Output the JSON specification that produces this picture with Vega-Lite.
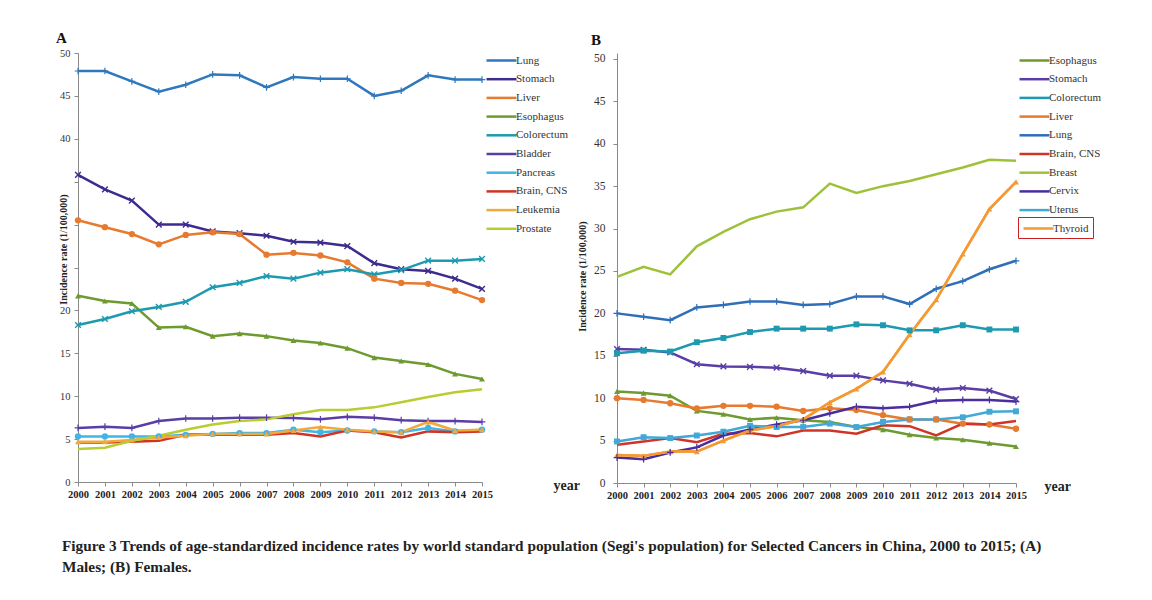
{
  "$schema": "https://vega.github.io/schema/vega-lite/v6.json",
  "padding": {"left": 56, "top": 31, "right": 5, "bottom": 5},
  "background": "white",
  "config": {
    "font": "Liberation Serif",
    "view": {"stroke": null},
    "concat": {"spacing": -3},
    "axis": {"domainColor": "#8a8a8a", "tickColor": "#8a8a8a", "tickSize": 4, "labelFont": "Liberation Serif", "labelColor": "#333", "titleFont": "Liberation Serif", "titleColor": "#222", "grid": false},
    "legend": {"title": null, "labelFont": "Liberation Serif", "labelFontSize": 11, "labelColor": "#333", "labelOffset": 10, "rowPadding": 5.7, "padding": 0, "layout": {"right": {"anchor": "start", "direction": "vertical", "margin": 1}}},
    "title": {"font": "Liberation Serif"}
  },
  "title": {
    "text": ["Figure 3 Trends of age-standardized incidence rates by world standard population (Segi's population) for Selected Cancers in China, 2000 to 2015; (A)", "Males; (B) Females."],
    "orient": "bottom", "anchor": "start", "fontSize": 15.3, "fontWeight": "bold", "color": "#222", "offset": 38, "lineHeight": 21, "dx": 6
  },
  "datasets": {
    "males": [
      {"year": 2000, "Lung": 47.9, "Stomach": 35.8, "Liver": 30.5, "Esophagus": 21.7, "Colorectum": 18.3, "Bladder": 6.3, "Pancreas": 5.3, "Brain, CNS": 4.6, "Leukemia": 4.7, "Prostate": 3.85},
      {"year": 2001, "Lung": 47.9, "Stomach": 34.1, "Liver": 29.7, "Esophagus": 21.1, "Colorectum": 19.0, "Bladder": 6.45, "Pancreas": 5.3, "Brain, CNS": 4.6, "Leukemia": 4.7, "Prostate": 4.0},
      {"year": 2002, "Lung": 46.7, "Stomach": 32.8, "Liver": 28.9, "Esophagus": 20.8, "Colorectum": 19.9, "Bladder": 6.3, "Pancreas": 5.3, "Brain, CNS": 4.7, "Leukemia": 4.9, "Prostate": 4.8},
      {"year": 2003, "Lung": 45.5, "Stomach": 30.0, "Liver": 27.7, "Esophagus": 18.0, "Colorectum": 20.4, "Bladder": 7.1, "Pancreas": 5.3, "Brain, CNS": 4.8, "Leukemia": 5.2, "Prostate": 5.4},
      {"year": 2004, "Lung": 46.3, "Stomach": 30.0, "Liver": 28.8, "Esophagus": 18.1, "Colorectum": 21.0, "Bladder": 7.4, "Pancreas": 5.5, "Brain, CNS": 5.5, "Leukemia": 5.4, "Prostate": 6.1},
      {"year": 2005, "Lung": 47.5, "Stomach": 29.2, "Liver": 29.1, "Esophagus": 17.0, "Colorectum": 22.7, "Bladder": 7.4, "Pancreas": 5.6, "Brain, CNS": 5.5, "Leukemia": 5.6, "Prostate": 6.7},
      {"year": 2006, "Lung": 47.4, "Stomach": 29.0, "Liver": 28.9, "Esophagus": 17.3, "Colorectum": 23.2, "Bladder": 7.5, "Pancreas": 5.7, "Brain, CNS": 5.5, "Leukemia": 5.6, "Prostate": 7.1},
      {"year": 2007, "Lung": 46.0, "Stomach": 28.7, "Liver": 26.5, "Esophagus": 17.0, "Colorectum": 24.0, "Bladder": 7.5, "Pancreas": 5.7, "Brain, CNS": 5.5, "Leukemia": 5.6, "Prostate": 7.3},
      {"year": 2008, "Lung": 47.2, "Stomach": 28.0, "Liver": 26.7, "Esophagus": 16.5, "Colorectum": 23.7, "Bladder": 7.45, "Pancreas": 6.1, "Brain, CNS": 5.7, "Leukemia": 6.0, "Prostate": 7.9},
      {"year": 2009, "Lung": 47.0, "Stomach": 27.9, "Liver": 26.4, "Esophagus": 16.2, "Colorectum": 24.4, "Bladder": 7.3, "Pancreas": 5.8, "Brain, CNS": 5.3, "Leukemia": 6.4, "Prostate": 8.4},
      {"year": 2010, "Lung": 47.0, "Stomach": 27.5, "Liver": 25.6, "Esophagus": 15.6, "Colorectum": 24.8, "Bladder": 7.6, "Pancreas": 6.0, "Brain, CNS": 6.0, "Leukemia": 6.1, "Prostate": 8.4},
      {"year": 2011, "Lung": 45.0, "Stomach": 25.5, "Liver": 23.7, "Esophagus": 14.5, "Colorectum": 24.2, "Bladder": 7.5, "Pancreas": 5.9, "Brain, CNS": 5.8, "Leukemia": 5.9, "Prostate": 8.7},
      {"year": 2012, "Lung": 45.6, "Stomach": 24.8, "Liver": 23.2, "Esophagus": 14.1, "Colorectum": 24.7, "Bladder": 7.2, "Pancreas": 5.8, "Brain, CNS": 5.2, "Leukemia": 5.8, "Prostate": 9.3},
      {"year": 2013, "Lung": 47.4, "Stomach": 24.6, "Liver": 23.1, "Esophagus": 13.7, "Colorectum": 25.8, "Bladder": 7.1, "Pancreas": 6.3, "Brain, CNS": 5.9, "Leukemia": 7.0, "Prostate": 9.9},
      {"year": 2014, "Lung": 46.9, "Stomach": 23.7, "Liver": 22.3, "Esophagus": 12.6, "Colorectum": 25.8, "Bladder": 7.1, "Pancreas": 5.9, "Brain, CNS": 5.8, "Leukemia": 6.0, "Prostate": 10.45},
      {"year": 2015, "Lung": 46.9, "Stomach": 22.5, "Liver": 21.2, "Esophagus": 12.0, "Colorectum": 26.0, "Bladder": 7.0, "Pancreas": 6.1, "Brain, CNS": 5.9, "Leukemia": 6.1, "Prostate": 10.8}
    ],
    "females": [
      {"year": 2000, "Esophagus": 10.8, "Stomach": 15.8, "Colorectum": 15.3, "Liver": 10.0, "Lung": 20.0, "Brain, CNS": 4.5, "Breast": 24.3, "Cervix": 3.0, "Uterus": 4.9, "Thyroid": 3.3},
      {"year": 2001, "Esophagus": 10.6, "Stomach": 15.7, "Colorectum": 15.6, "Liver": 9.8, "Lung": 19.6, "Brain, CNS": 4.9, "Breast": 25.5, "Cervix": 2.8, "Uterus": 5.4, "Thyroid": 3.2},
      {"year": 2002, "Esophagus": 10.3, "Stomach": 15.4, "Colorectum": 15.5, "Liver": 9.4, "Lung": 19.2, "Brain, CNS": 5.3, "Breast": 24.6, "Cervix": 3.6, "Uterus": 5.3, "Thyroid": 3.7},
      {"year": 2003, "Esophagus": 8.5, "Stomach": 14.0, "Colorectum": 16.6, "Liver": 8.8, "Lung": 20.7, "Brain, CNS": 4.8, "Breast": 27.9, "Cervix": 4.2, "Uterus": 5.6, "Thyroid": 3.7},
      {"year": 2004, "Esophagus": 8.1, "Stomach": 13.75, "Colorectum": 17.1, "Liver": 9.1, "Lung": 21.0, "Brain, CNS": 5.8, "Breast": 29.6, "Cervix": 5.6, "Uterus": 6.05, "Thyroid": 5.0},
      {"year": 2005, "Esophagus": 7.5, "Stomach": 13.7, "Colorectum": 17.8, "Liver": 9.1, "Lung": 21.4, "Brain, CNS": 5.9, "Breast": 31.1, "Cervix": 6.3, "Uterus": 6.75, "Thyroid": 6.2},
      {"year": 2006, "Esophagus": 7.7, "Stomach": 13.6, "Colorectum": 18.2, "Liver": 9.0, "Lung": 21.4, "Brain, CNS": 5.5, "Breast": 32.0, "Cervix": 6.9, "Uterus": 6.6, "Thyroid": 6.7},
      {"year": 2007, "Esophagus": 7.4, "Stomach": 13.2, "Colorectum": 18.2, "Liver": 8.5, "Lung": 21.0, "Brain, CNS": 6.2, "Breast": 32.5, "Cervix": 7.4, "Uterus": 6.6, "Thyroid": 7.5},
      {"year": 2008, "Esophagus": 7.2, "Stomach": 12.65, "Colorectum": 18.2, "Liver": 8.8, "Lung": 21.1, "Brain, CNS": 6.2, "Breast": 35.3, "Cervix": 8.2, "Uterus": 7.0, "Thyroid": 9.5},
      {"year": 2009, "Esophagus": 6.6, "Stomach": 12.65, "Colorectum": 18.7, "Liver": 8.6, "Lung": 22.0, "Brain, CNS": 5.8, "Breast": 34.2, "Cervix": 9.0, "Uterus": 6.6, "Thyroid": 11.1},
      {"year": 2010, "Esophagus": 6.3, "Stomach": 12.1, "Colorectum": 18.6, "Liver": 8.0, "Lung": 22.0, "Brain, CNS": 6.8, "Breast": 35.0, "Cervix": 8.8, "Uterus": 7.2, "Thyroid": 13.1},
      {"year": 2011, "Esophagus": 5.7, "Stomach": 11.7, "Colorectum": 18.0, "Liver": 7.5, "Lung": 21.1, "Brain, CNS": 6.7, "Breast": 35.6, "Cervix": 9.0, "Uterus": 7.5, "Thyroid": 17.5},
      {"year": 2012, "Esophagus": 5.3, "Stomach": 11.0, "Colorectum": 18.0, "Liver": 7.5, "Lung": 22.9, "Brain, CNS": 5.6, "Breast": 36.4, "Cervix": 9.7, "Uterus": 7.5, "Thyroid": 21.6},
      {"year": 2013, "Esophagus": 5.1, "Stomach": 11.2, "Colorectum": 18.6, "Liver": 7.0, "Lung": 23.8, "Brain, CNS": 7.0, "Breast": 37.2, "Cervix": 9.8, "Uterus": 7.75, "Thyroid": 27.0},
      {"year": 2014, "Esophagus": 4.7, "Stomach": 10.9, "Colorectum": 18.1, "Liver": 6.9, "Lung": 25.2, "Brain, CNS": 6.9, "Breast": 38.1, "Cervix": 9.8, "Uterus": 8.4, "Thyroid": 32.3},
      {"year": 2015, "Esophagus": 4.3, "Stomach": 9.9, "Colorectum": 18.1, "Liver": 6.4, "Lung": 26.2, "Brain, CNS": 7.3, "Breast": 38.0, "Cervix": 9.6, "Uterus": 8.45, "Thyroid": 35.5}
    ]
  },
  "hconcat": [
    {
      "title": {"text": "A", "anchor": "start", "frame": "group", "dx": -22, "fontSize": 15, "fontWeight": "bold", "color": "#111", "offset": 2},
      "width": 404,
      "height": 429,
      "data": {"name": "males"},
      "transform": [{"fold": ["Lung", "Stomach", "Liver", "Esophagus", "Colorectum", "Bladder", "Pancreas", "Brain, CNS", "Leukemia", "Prostate"], "as": ["cancer", "rate"]}],
      "encoding": {
        "x": {"field": "year", "type": "quantitative", "scale": {"domain": [2000, 2015], "nice": false, "zero": false},
          "axis": {"values": [2000, 2001, 2002, 2003, 2004, 2005, 2006, 2007, 2008, 2009, 2010, 2011, 2012, 2013, 2014, 2015], "format": "d", "labelFontSize": 10.5, "labelFontWeight": "bold", "labelColor": "#222", "labelPadding": 3, "labelOverlap": false, "labelFlush": false,
            "title": "year", "titleFontSize": 14, "titleFontWeight": "bold", "titleX": 475, "titleY": 3, "titleAlign": "left", "titleBaseline": "middle", "titleAngle": 0}},
        "y": {"field": "rate", "type": "quantitative", "scale": {"domain": [0, 50], "nice": false, "zero": true},
          "axis": {"values": [0, 5, 10, 15, 20, 25, 30, 35, 40, 45, 50], "labelFontSize": 10.5, "labelPadding": 4, "labelExpr": "datum.value >= 25 && datum.value <= 35 ? '' : datum.label",
            "title": "Incidence rate (1/100,000)", "titleFontSize": 10, "titleFontWeight": "bold", "titleX": -14.5, "titleY": 196, "titleAlign": "center", "titleBaseline": "middle", "titleAngle": -90}},
        "color": {"field": "cancer", "type": "nominal",
          "scale": {"domain": ["Lung", "Stomach", "Liver", "Esophagus", "Colorectum", "Bladder", "Pancreas", "Brain, CNS", "Leukemia", "Prostate"],
                    "range": ["#2f78bd", "#3d2c8d", "#e67a2e", "#6e9a30", "#1e9ab0", "#5a3ea5", "#42b4e6", "#cf3427", "#f2a93b", "#b9cc30"]},
          "legend": {"symbolType": "M-1,0H4", "symbolSize": 144, "symbolStrokeWidth": 2.5, "offset": -2, "labelFont": "Liberation Serif", "labelFontSize": 11, "labelOffset": 16}}
      },
      "layer": [
        {"mark": {"type": "line", "strokeWidth": 2.5}},
        {"transform": [{"filter": {"field": "cancer", "oneOf": ["Lung", "Bladder"]}}],
          "mark": {"type": "point", "filled": true, "size": 45, "opacity": 1, "shape": "M-1,-0.18H-0.18V-1H0.18V-0.18H1V0.18H0.18V1H-0.18V0.18H-1Z"}},
        {"transform": [{"filter": {"field": "cancer", "oneOf": ["Stomach", "Colorectum"]}}],
          "mark": {"type": "point", "filled": true, "size": 45, "opacity": 1, "shape": "M-1,-0.7L-0.7,-1L0,-0.3L0.7,-1L1,-0.7L0.3,0L1,0.7L0.7,1L0,0.3L-0.7,1L-1,0.7L-0.3,0Z"}},
        {"transform": [{"filter": {"field": "cancer", "oneOf": ["Liver", "Pancreas"]}}],
          "mark": {"type": "point", "filled": true, "size": 40, "opacity": 1, "shape": "circle"}},
        {"transform": [{"filter": {"field": "cancer", "oneOf": ["Esophagus", "Leukemia"]}}],
          "mark": {"type": "point", "filled": true, "size": 35, "opacity": 1, "shape": "triangle-up"}}
      ]
    },
    {
      "title": {"text": "B", "anchor": "start", "frame": "group", "dx": -26, "fontSize": 15, "fontWeight": "bold", "color": "#111", "offset": 5},
      "width": 399,
      "height": 430,
      "data": {"name": "females"},
      "transform": [{"fold": ["Esophagus", "Stomach", "Colorectum", "Liver", "Lung", "Brain, CNS", "Breast", "Cervix", "Uterus", "Thyroid"], "as": ["cancer", "rate"]}],
      "encoding": {
        "x": {"field": "year", "type": "quantitative", "scale": {"domain": [2000, 2015], "nice": false, "zero": false},
          "axis": {"values": [2000, 2001, 2002, 2003, 2004, 2005, 2006, 2007, 2008, 2009, 2010, 2011, 2012, 2013, 2014, 2015], "format": "d", "labelFontSize": 10.5, "labelFontWeight": "bold", "labelColor": "#222", "labelPadding": 3, "labelOverlap": false, "labelFlush": false,
            "title": "year", "titleFontSize": 14, "titleFontWeight": "bold", "titleX": 427, "titleY": 3, "titleAlign": "left", "titleBaseline": "middle", "titleAngle": 0}},
        "y": {"field": "rate", "type": "quantitative", "scale": {"domain": [0, 50.7], "nice": false, "zero": true},
          "axis": {"values": [0, 5, 10, 15, 20, 25, 30, 35, 40, 45, 50], "labelFontSize": 11.5, "labelPadding": 8,
            "title": "Incidence rate (1/100,000)", "titleFontSize": 10, "titleFontWeight": "bold", "titleX": -35, "titleY": 223, "titleAlign": "center", "titleBaseline": "middle", "titleAngle": -90}},
        "color": {"field": "cancer", "type": "nominal",
          "scale": {"domain": ["Esophagus", "Stomach", "Colorectum", "Liver", "Lung", "Brain, CNS", "Breast", "Cervix", "Uterus", "Thyroid"],
                    "range": ["#6e9a30", "#5a3ea5", "#1e9ab0", "#e67a2e", "#2f6fb8", "#cf3427", "#9dc23a", "#4a2ea0", "#42a8d8", "#f39a33"]},
          "legend": {"values": ["Esophagus", "Stomach", "Colorectum", "Liver", "Lung", "Brain, CNS", "Breast", "Cervix", "Uterus"], "symbolType": "M-1,0H4", "symbolSize": 144, "symbolStrokeWidth": 2.5, "offset": -3, "labelFont": "Liberation Serif", "labelFontSize": 11, "labelOffset": 16}}
      },
      "layer": [
        {"mark": {"type": "line", "strokeWidth": 2.5}},
        {"transform": [{"filter": {"field": "cancer", "equal": "Thyroid"}}],
          "mark": {"type": "line", "strokeWidth": 2.5},
          "encoding": {"strokeDash": {"field": "cancer", "type": "nominal", "scale": {"domain": ["Thyroid"], "range": [[1, 0]]},
            "legend": {"symbolType": "M-1,0H4", "symbolSize": 144, "symbolStrokeWidth": 2.5, "symbolStrokeColor": "#f39a33", "strokeColor": "#cc2020", "padding": 4, "offset": -3, "labelFont": "Liberation Serif", "labelFontSize": 11, "labelOffset": 16, "labelExpr": "'Thyroid' + '\u2003\u2003\u2003\u2002'"}}}},
        {"transform": [{"filter": {"field": "cancer", "oneOf": ["Esophagus", "Thyroid"]}}],
          "mark": {"type": "point", "filled": true, "size": 35, "opacity": 1, "shape": "triangle-up"}},
        {"transform": [{"filter": {"field": "cancer", "equal": "Stomach"}}],
          "mark": {"type": "point", "filled": true, "size": 45, "opacity": 1, "shape": "M-1,-0.7L-0.7,-1L0,-0.3L0.7,-1L1,-0.7L0.3,0L1,0.7L0.7,1L0,0.3L-0.7,1L-1,0.7L-0.3,0Z"}},
        {"transform": [{"filter": {"field": "cancer", "oneOf": ["Colorectum", "Uterus"]}}],
          "mark": {"type": "point", "filled": true, "size": 35, "opacity": 1, "shape": "square"}},
        {"transform": [{"filter": {"field": "cancer", "equal": "Liver"}}],
          "mark": {"type": "point", "filled": true, "size": 40, "opacity": 1, "shape": "circle"}},
        {"transform": [{"filter": {"field": "cancer", "oneOf": ["Lung", "Cervix"]}}],
          "mark": {"type": "point", "filled": true, "size": 45, "opacity": 1, "shape": "M-1,-0.18H-0.18V-1H0.18V-0.18H1V0.18H0.18V1H-0.18V0.18H-1Z"}}
      ]
    }
  ],
  "resolve": {"scale": {"color": "independent", "strokeDash": "independent", "x": "independent", "y": "independent"}, "legend": {"color": "independent", "strokeDash": "independent"}}
}
